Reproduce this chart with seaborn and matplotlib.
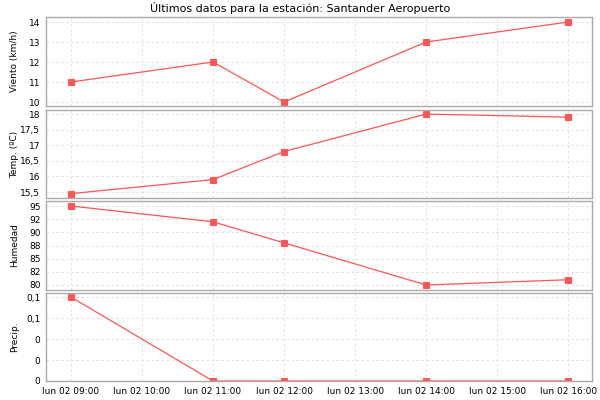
import numpy as np
import pandas as pd
import seaborn as sns
import matplotlib.pyplot as plt
import matplotlib.dates as mdates
from matplotlib.ticker import FixedLocator, FixedFormatter

horas = ["2024-06-02 09:00", "2024-06-02 11:00", "2024-06-02 12:00", "2024-06-02 14:00", "2024-06-02 16:00"]
viento = [11, 12, 10, 13, 14]
temp = [15.45, 15.9, 16.8, 18.0, 17.9]
humedad = [95, 92, 88, 80, 81]
precip = [0.1, 0, 0, 0, 0]

xtick_horas = ["2024-06-02 %02d:00" % h for h in range(9, 17)]
xtick_labels = ["lun 02 %02d:00" % h for h in range(9, 17)]

sns.set_style("white")
plt.rcParams['font.family'] = ['DejaVu Sans']
plt.rcParams['font.size'] = 6.5
plt.rcParams['text.color'] = 'black'
plt.rcParams['axes.labelcolor'] = 'black'
plt.rcParams['xtick.color'] = 'black'
plt.rcParams['ytick.color'] = 'black'

df = pd.DataFrame({"hora": pd.to_datetime(horas), "viento": viento, "temp": temp,
                   "humedad": humedad, "precip": precip})

fig = plt.figure(figsize=(6, 4), dpi=100)
fig.text(0.5, 0.98, "Últimos datos para la estación: Santander Aeropuerto",
         ha="center", va="center", fontsize=8)

rojo = "#ff5555"
paneles = [
    ("viento", "Viento (km/h)", (9.8, 14.25), [10, 11, 12, 13, 14], ["10", "11", "12", "13", "14"]),
    ("temp", "Temp. (ºC)", (15.31, 18.13), [15.5, 16, 16.5, 17, 17.5, 18], ["15,5", "16", "16,5", "17", "17,5", "18"]),
    ("humedad", "Humedad", (79.05, 95.95), [80, 82.5, 85, 87.5, 90, 92.5, 95], ["80", "82", "85", "88", "90", "92", "95"]),
    ("precip", "Precip.", (0, 0.1048), [0, 0.025, 0.05, 0.075, 0.1], ["0", "0", "0", "0,1", "0,1"]),
]
tops = [17, 110, 201, 293]
bottoms = [106, 198, 290, 381]

xmin = pd.Timestamp("2024-06-02 08:39")
xmax = pd.Timestamp("2024-06-02 16:20")

axes = []
for (col, label, ylim, yt, ytl), t, b in zip(paneles, tops, bottoms):
    ax = fig.add_axes([46 / 600, 1 - b / 400, 546 / 600, (b - t) / 400])
    sns.lineplot(data=df, x="hora", y=col, ax=ax, color=rojo, linewidth=0.9,
                 marker="s", markersize=5, markeredgecolor=rojo, clip_on=True)
    ax.set_xlim(xmin, xmax)
    ax.set_ylim(*ylim)
    ax.yaxis.set_major_locator(FixedLocator(yt))
    ax.yaxis.set_major_formatter(FixedFormatter(ytl))
    ax.xaxis.set_major_locator(FixedLocator(mdates.date2num(pd.to_datetime(xtick_horas))))
    ax.set_ylabel(label, fontsize=6.5)
    ax.set_xlabel("")
    ax.grid(True, color="#dddddd", linestyle=(0, (3, 3)), linewidth=0.6)
    for s in ax.spines.values():
        s.set_color("#aaaaaa")
        s.set_linewidth(1)
    ax.tick_params(axis="both", length=2, width=0.6, color="#888888", labelsize=6.5, pad=2)
    ax.yaxis.set_label_coords(-0.05, 0.5)
    axes.append(ax)

for ax in axes[:-1]:
    ax.tick_params(axis="x", labelbottom=False, length=0)
axes[-1].xaxis.set_major_formatter(FixedFormatter(xtick_labels))

fig.savefig("out.png", dpi=100)
